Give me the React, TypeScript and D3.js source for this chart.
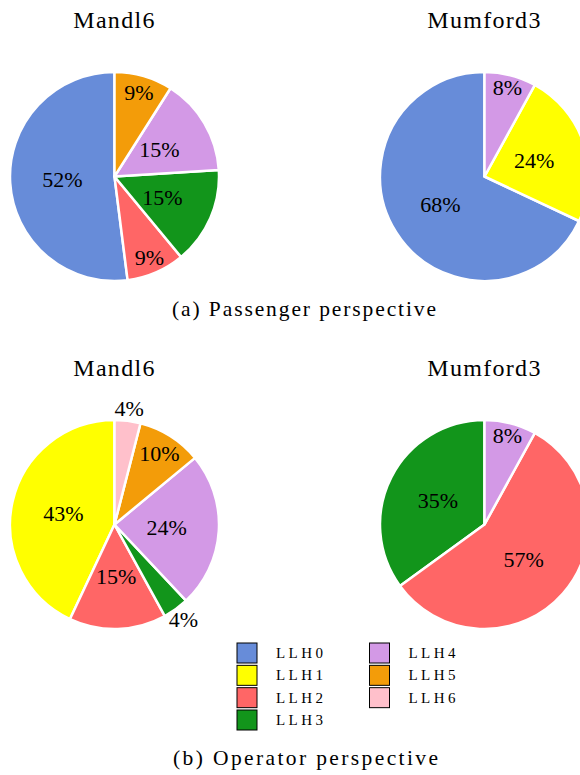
import React from 'react';
import * as d3 from 'd3';

// slice keys and shares (percent), in drawing order (counter-clockwise from 12 o'clock)
const passengerMandlKeys = ['LLH0', 'LLH2', 'LLH3', 'LLH4', 'LLH5'];
const passengerMandlVals = [52, 9, 15, 15, 9];
const passengerMumfordKeys = ['LLH0', 'LLH1', 'LLH4'];
const passengerMumfordVals = [68, 24, 8];
const operatorMandlKeys = ['LLH1', 'LLH2', 'LLH3', 'LLH4', 'LLH5', 'LLH6'];
const operatorMandlVals = [43, 15, 4, 24, 10, 4];
const operatorMumfordKeys = ['LLH3', 'LLH2', 'LLH4'];
const operatorMumfordVals = [35, 57, 8];

const legendKeys = ['LLH0', 'LLH1', 'LLH2', 'LLH3', 'LLH4', 'LLH5', 'LLH6'];
const colors = ['#678cd9', '#ffff00', '#ff6666', '#12951b', '#d399e6', '#f39c09', '#ffc0cb'];

const color = d3.scaleOrdinal<string, string>().domain(legendKeys).range(colors);

const W = 580;
const H = 775;
const R = 104.5;
const FONT = "'Liberation Serif'";

// how far out the percent label sits, as a share of the radius
const labelDist = (p: number) => (p < 5 ? 1.12 : p < 15 ? 0.88 - (p - 8) * 0.04 : 0.5);

interface PieProps {
  cx: number;
  cy: number;
  title: string;
  keys: string[];
  vals: number[];
}

const Pie: React.FC<PieProps> = ({ cx, cy, title, keys, vals }) => {
  const data = keys.map((k, i) => ({ key: k, value: vals[i] }));
  const pie = d3
    .pie<{ key: string; value: number }>()
    .value(d => d.value)
    .sort(null)
    .startAngle(0)
    .endAngle(-2 * Math.PI);
  const arcs = pie(data);
  const arc = d3.arc<d3.PieArcDatum<{ key: string; value: number }>>().innerRadius(0).outerRadius(R);
  const total = d3.sum(vals);

  return (
    <g>
      <text x={cx} y={cy - 149} textAnchor="middle" style={{ fontFamily: FONT, fontSize: 24, letterSpacing: 1.3 }}>
        {title}
      </text>
      <g transform={`translate(${cx},${cy})`}>
        {arcs.map(a => (
          <path
            key={a.data.key}
            d={arc(a) || ''}
            fill={color(a.data.key)}
            stroke="#fff"
            strokeWidth={2.5}
            strokeLinejoin="round"
          />
        ))}
        {arcs.map(a => {
          const pct = (a.data.value / total) * 100;
          const mid = (a.startAngle + a.endAngle) / 2;
          const d = labelDist(pct) * R;
          return (
            <text
              key={'t' + a.data.key}
              x={Math.sin(mid) * d}
              y={-Math.cos(mid) * d}
              dy="0.34em"
              textAnchor="middle"
              style={{ fontFamily: FONT, fontSize: 22 }}
            >
              {`${Math.round(pct)}%`}
            </text>
          );
        })}
      </g>
    </g>
  );
};

const App: React.FC = () => {
  const legendX = d3.scalePoint<number>().domain([0, 1]).range([237, 369.5]);
  const legendY = d3.scaleLinear().domain([0, 3]).range([653, 720]);

  return (
    <svg width={W} height={H} style={{ position: 'absolute', left: 0, top: 0, background: '#fff' }}>
      <Pie cx={114.5} cy={176.5} title="Mandl6" keys={passengerMandlKeys} vals={passengerMandlVals} />
      <Pie cx={484.5} cy={176.5} title="Mumford3" keys={passengerMumfordKeys} vals={passengerMumfordVals} />
      <text x={172} y={316} textLength={264} lengthAdjust="spacing" style={{ fontFamily: FONT, fontSize: 21.5 }}>
        (a) Passenger perspective
      </text>

      <Pie cx={114.5} cy={524.5} title="Mandl6" keys={operatorMandlKeys} vals={operatorMandlVals} />
      <Pie cx={484.5} cy={524.5} title="Mumford3" keys={operatorMumfordKeys} vals={operatorMumfordVals} />

      {legendKeys.map((k, i) => {
        const col = i < 4 ? 0 : 1;
        const row = i < 4 ? i : i - 4;
        const x = legendX(col) as number;
        const y = legendY(row);
        return (
          <g key={k}>
            <rect x={x} y={y - 10} width={20} height={20} fill={color(k)} stroke="#000" strokeWidth={1} />
            <text
              x={x + 39}
              y={y + 5}
              textLength={47}
              lengthAdjust="spacing"
              style={{ fontFamily: FONT, fontSize: 15 }}
            >
              {k}
            </text>
          </g>
        );
      })}

      <text x={173} y={765} textLength={265} lengthAdjust="spacing" style={{ fontFamily: FONT, fontSize: 21.5 }}>
        (b) Operator perspective
      </text>
    </svg>
  );
};

export default App;
